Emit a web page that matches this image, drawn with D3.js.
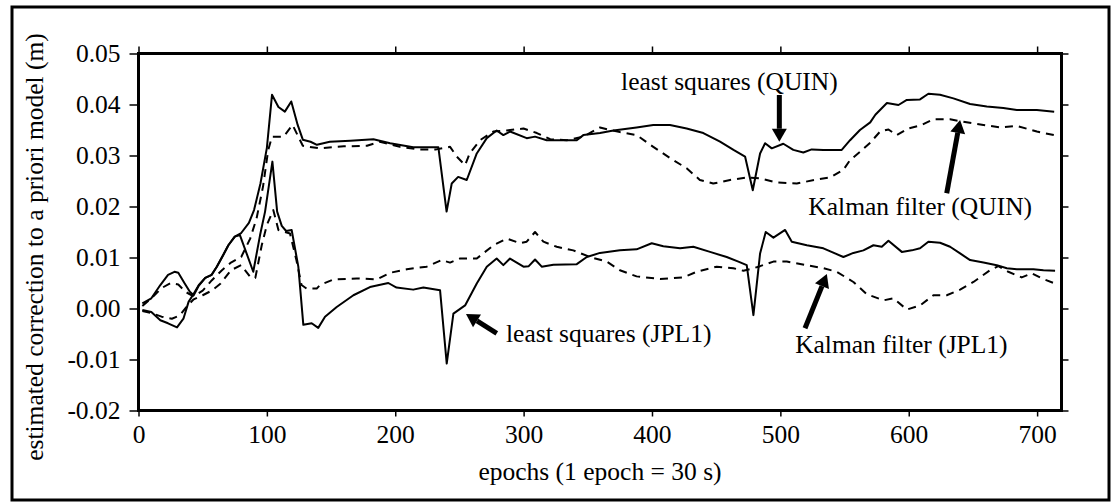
<!DOCTYPE html>
<html>
<head>
<meta charset="utf-8">
<script src="https://cdn.jsdelivr.net/npm/d3@7"></script>
<style>
  body { margin: 0; background: #fff; }
  svg { display: block; }
  text { font-family: "Liberation Serif", "Times New Roman", serif; fill: #000; }
</style>
</head>
<body>
<svg id="chart" width="1112" height="504"></svg>
<script>
// Axis ticks and labels
const xTicks = [0, 100, 200, 300, 400, 500, 600, 700];
const xTickLabels = ["0", "100", "200", "300", "400", "500", "600", "700"];
const yTicks = [0.05, 0.04, 0.03, 0.02, 0.01, 0.00, -0.01, -0.02];
const yTickLabels = ["0.05", "0.04", "0.03", "0.02", "0.01", "0.00", "-0.01", "-0.02"];

// Least squares estimate, station QUIN: [epoch, correction (m)]
const lsQuin = [
  [3, 0.0010], [10, 0.0020], [17, 0.0046], [23, 0.0066], [28, 0.0072], [31, 0.0070],
  [36, 0.0049], [40, 0.0033], [43, 0.0026], [47, 0.0045], [52, 0.0060], [57, 0.0066],
  [61, 0.0082], [66, 0.0105], [70, 0.0124], [75, 0.0141], [80, 0.0148], [86, 0.0168],
  [90, 0.0193], [95, 0.0245], [100, 0.0315], [104, 0.0419], [109, 0.0395], [114, 0.0386],
  [119, 0.0406], [124, 0.0360], [128, 0.0331], [134, 0.0327], [139, 0.0321], [149, 0.0327],
  [165, 0.0329], [183, 0.0332], [196, 0.0324], [214, 0.0316], [233.6, 0.0316], [240, 0.0190],
  [244, 0.0245], [249, 0.0258], [255.7, 0.0252], [263.5, 0.0304], [271.3, 0.0334], [279, 0.0349],
  [284.2, 0.0340], [289.4, 0.0347], [302.4, 0.0334], [308.9, 0.0337], [318, 0.0330], [341.4, 0.0330],
  [346.5, 0.0340], [359.5, 0.0344], [370, 0.0349], [388, 0.0355], [401, 0.0360], [414, 0.0360],
  [427, 0.0353], [440, 0.0344], [453, 0.0327], [463.5, 0.0311], [472.5, 0.0298], [478.5, 0.0232],
  [484.2, 0.0304], [488.1, 0.0324], [493.3, 0.0314], [502.3, 0.0323], [510.1, 0.0311], [517.9, 0.0306],
  [524.4, 0.0312], [533.5, 0.0311], [547.8, 0.0311], [554.3, 0.0330], [562, 0.0350], [570, 0.0365],
  [574, 0.0380], [583, 0.0403], [592, 0.0399], [598.5, 0.0409], [608.8, 0.0410], [615.3, 0.0421],
  [624.4, 0.0419], [634.8, 0.0412], [647.8, 0.0401], [660.8, 0.0396], [673.7, 0.0393], [684.2, 0.0389],
  [699.8, 0.0389], [713.3, 0.0386]
];

// Kalman filter estimate, station QUIN
const kfQuin = [
  [3, 0.0005], [10, 0.0020], [18, 0.0040], [25, 0.0050], [31, 0.0047], [37, 0.0032],
  [43, 0.0024], [50, 0.0035], [57, 0.0055], [65, 0.0075], [72, 0.0090], [80, 0.0101],
  [87, 0.0137], [92, 0.0177], [97, 0.0239], [101, 0.0310], [104, 0.0337], [113, 0.0337],
  [120, 0.0360], [128, 0.0319], [141, 0.0314], [160, 0.0318], [178, 0.0319], [188, 0.0327],
  [203.6, 0.0317], [219, 0.0312], [232, 0.0312], [242.7, 0.0317], [247.9, 0.0298], [254.4, 0.0281],
  [258, 0.0304], [266, 0.0330], [276.4, 0.0347], [286.9, 0.0349], [299.9, 0.0353], [310.3, 0.0344],
  [320.7, 0.0332], [333.6, 0.0330], [346.5, 0.0337], [359.5, 0.0355], [367.3, 0.0350], [375, 0.0346],
  [388, 0.0340], [401, 0.0317], [414, 0.0295], [427, 0.0275], [437.3, 0.0252], [447.7, 0.0245],
  [460.8, 0.0252], [473.8, 0.0257], [484.2, 0.0255], [497.2, 0.0247], [512.8, 0.0245], [528.4, 0.0253],
  [538.8, 0.0257], [549.1, 0.0272], [554.3, 0.0291], [562, 0.0307], [570, 0.0325], [577.7, 0.0347],
  [584.2, 0.0351], [590.7, 0.0340], [599.7, 0.0353], [610.3, 0.0360], [619.2, 0.0371], [632.2, 0.0371],
  [642.6, 0.0366], [658.2, 0.0360], [671.2, 0.0355], [684.2, 0.0358], [699.8, 0.0347], [713.3, 0.0340]
];

// Least squares estimate, station JPL1
const lsJpl1 = [
  [3, -0.0003], [10, -0.0007], [17, -0.0023], [23, -0.0029], [30, -0.0037], [35, -0.0020],
  [39, 0.0013], [43, 0.0029], [47, 0.0046], [52, 0.0060], [57, 0.0066], [61, 0.0082],
  [66, 0.0105], [70, 0.0124], [75, 0.0141], [79, 0.0144], [89.4, 0.0072], [94.7, 0.0144],
  [98.6, 0.0190], [104.3, 0.0288], [108, 0.0190], [111.6, 0.0162], [115, 0.0152], [119.3, 0.0154],
  [124.5, 0.0082], [128.4, -0.0032], [134.9, -0.0029], [140, -0.0038], [145.3, -0.0016], [154.4, 0.0003],
  [167.4, 0.0026], [180.3, 0.0042], [194.6, 0.0050], [201, 0.0041], [214, 0.0037], [221.9, 0.0041],
  [234.9, 0.0036], [240.1, -0.0108], [245.3, -0.0010], [254.4, 0.0006], [263.5, 0.0049], [271.3, 0.0082],
  [279, 0.0098], [284.2, 0.0085], [289.4, 0.0098], [299.9, 0.0082], [304, 0.0083], [308.9, 0.0096],
  [314.1, 0.0082], [323.2, 0.0086], [341.4, 0.0087], [349.2, 0.0101], [359.5, 0.0109], [375, 0.0114],
  [388, 0.0116], [399.8, 0.0128], [408.8, 0.0122], [421.9, 0.0118], [432.2, 0.0121], [445.2, 0.0111],
  [458.2, 0.0101], [467.3, 0.0092], [473.8, 0.0085], [479, -0.0013], [484.2, 0.0108], [488.6, 0.0150],
  [494.6, 0.0139], [503.7, 0.0154], [508.9, 0.0131], [520.6, 0.0124], [533.5, 0.0118], [549.1, 0.0101],
  [556.9, 0.0109], [564.7, 0.0114], [572.5, 0.0124], [579, 0.0121], [584.2, 0.0133], [594.6, 0.0111],
  [602.4, 0.0114], [608.8, 0.0118], [615.3, 0.0131], [624.4, 0.0129], [632.2, 0.0121], [640, 0.0108],
  [647.8, 0.0095], [658.2, 0.0090], [668.6, 0.0085], [676.4, 0.0079], [684.2, 0.0077], [697.1, 0.0077],
  [704.9, 0.0075], [714, 0.0074]
];

// Kalman filter estimate, station JPL1
const kfJpl1 = [
  [3, -0.0005], [10, -0.0009], [18, -0.0016], [26, -0.0020], [32, -0.0014], [38, 0.0005],
  [43, 0.0018], [50, 0.0026], [57, 0.0035], [64, 0.0049], [72, 0.0075], [80, 0.0085],
  [87, 0.0062], [91, 0.0060], [96, 0.0124], [100, 0.0164], [105, 0.0193], [109, 0.0154],
  [118, 0.0147], [123, 0.0095], [127, 0.0046], [131, 0.0039], [138.8, 0.0039], [141.4, 0.0046],
  [151.8, 0.0057], [170, 0.0059], [185.6, 0.0057], [196, 0.0070], [209, 0.0077], [224.5, 0.0082],
  [236.2, 0.0095], [242.7, 0.0090], [250.5, 0.0098], [263.5, 0.0098], [276.5, 0.0124], [286.9, 0.0137],
  [297.2, 0.0128], [302.4, 0.0131], [308.9, 0.0150], [315.4, 0.0131], [325.8, 0.0121], [338.7, 0.0114],
  [351.7, 0.0101], [364.7, 0.0092], [375, 0.0075], [388, 0.0063], [406.3, 0.0058], [424.4, 0.0061],
  [434.8, 0.0072], [450.4, 0.0082], [463.4, 0.0079], [471.2, 0.0074], [479, 0.0079], [484.2, 0.0083],
  [494.6, 0.0092], [505, 0.0092], [520.6, 0.0085], [533.5, 0.0079], [543.9, 0.0072], [556.9, 0.0052],
  [567.3, 0.0028], [580.3, 0.0016], [588.1, 0.0020], [598.5, -0.0002], [608.8, 0.0006], [619.2, 0.0026],
  [629.6, 0.0026], [640, 0.0037], [650.4, 0.0052], [663.3, 0.0075], [669.8, 0.0083], [677.6, 0.0072],
  [688, 0.0061], [695.9, 0.0069], [703.7, 0.0059], [714, 0.0049]
];

// Callout labels: text anchor point and arrow tail/tip, in data units
const calloutText = ["least squares (QUIN)", "Kalman filter (QUIN)", "least squares (JPL1)", "Kalman filter (JPL1)"];
const calloutAt = [[375.9, 0.04284], [521.8, 0.01833], [286.3, -0.00651], [511.5, -0.00878]];
const arrowFrom = [[499.2, 0.04186], [629.6, 0.02259], [279.1, -0.00486], [519.2, -0.00388]];
const arrowTo = [[499.2, 0.0327], [640, 0.03696], [255.1, -0.00108], [536.2, 0.00676]];

const svg = d3.select("#chart");
const W = 1112, H = 504;
const FONT = 25.5;

const x = d3.scaleLinear().domain([0, 719]).range([138.5, 1061.5]);
const y = d3.scaleLinear().domain([-0.02, 0.05]).range([410.5, 53.5]);

// outer frame
svg.append("rect")
  .attr("x", 12).attr("y", 7).attr("width", 1097).attr("height", 493)
  .attr("fill", "none").attr("stroke", "#000").attr("stroke-width", 3);

// axes
function styleAxis(g) {
  g.select(".domain").remove();
  g.selectAll(".tick line").attr("stroke", "#000").attr("stroke-width", 1.5);
  g.selectAll(".tick text").attr("font-size", FONT).attr("font-family", "Liberation Serif");
}

svg.append("g").attr("transform", `translate(0,${y(-0.02)})`)
  .call(d3.axisBottom(x).tickValues(xTicks).tickSize(6).tickPadding(8)
    .tickFormat((d, i) => xTickLabels[i]))
  .call(styleAxis);

svg.append("g").attr("transform", `translate(0,${y(0.05)})`)
  .call(d3.axisTop(x).tickValues(xTicks).tickSize(7).tickFormat(""))
  .call(styleAxis);

svg.append("g").attr("transform", `translate(${x(0)},0)`)
  .call(d3.axisLeft(y).tickValues(yTicks).tickSize(9).tickPadding(9)
    .tickFormat((d, i) => yTickLabels[i]))
  .call(styleAxis);

svg.append("g").attr("transform", `translate(${x(719)},0)`)
  .call(d3.axisRight(y).tickValues(yTicks).tickSize(7).tickFormat(""))
  .call(styleAxis);

// plot box
svg.append("rect")
  .attr("x", x(0)).attr("y", y(0.05))
  .attr("width", x(719) - x(0)).attr("height", y(-0.02) - y(0.05))
  .attr("fill", "none").attr("stroke", "#000").attr("stroke-width", 3);

// series
const line = d3.line().x(d => x(d[0])).y(d => y(d[1]));
const series = [
  { data: lsQuin, dash: null },
  { data: kfQuin, dash: "8,6" },
  { data: lsJpl1, dash: null },
  { data: kfJpl1, dash: "8,6" }
];
svg.append("g").selectAll("path").data(series).join("path")
  .attr("d", s => line(s.data))
  .attr("fill", "none")
  .attr("stroke", "#000")
  .attr("stroke-width", 2)
  .attr("stroke-linejoin", "round")
  .attr("stroke-dasharray", s => s.dash);

// callout arrows
const arrows = svg.append("g");
arrowFrom.forEach((a, i) => {
  const x0 = x(a[0]), y0 = y(a[1]);
  const x1 = x(arrowTo[i][0]), y1 = y(arrowTo[i][1]);
  const len = Math.hypot(x1 - x0, y1 - y0);
  const ux = (x1 - x0) / len, uy = (y1 - y0) / len;
  const headLen = 13, headHalf = 7.5;
  const bx = x1 - ux * headLen, by = y1 - uy * headLen;
  arrows.append("line")
    .attr("x1", x0).attr("y1", y0).attr("x2", bx).attr("y2", by)
    .attr("stroke", "#000").attr("stroke-width", 5);
  arrows.append("path")
    .attr("d", `M${x1},${y1}L${bx - uy * headHalf},${by + ux * headHalf}L${bx + uy * headHalf},${by - ux * headHalf}Z`)
    .attr("fill", "#000");
});

// callout labels
svg.append("g").selectAll("text").data(calloutText).join("text")
  .attr("x", (d, i) => x(calloutAt[i][0]))
  .attr("y", (d, i) => y(calloutAt[i][1]))
  .attr("font-size", FONT)
  .text(d => d);

// axis titles
svg.append("text")
  .attr("x", (x(0) + x(719)) / 2).attr("y", 480)
  .attr("text-anchor", "middle").attr("font-size", FONT)
  .text("epochs (1 epoch = 30 s)");

svg.append("text")
  .attr("transform", "translate(43,247) rotate(-90)")
  .attr("text-anchor", "middle").attr("font-size", FONT)
  .text("estimated correction to a priori model (m)");
</script>
</body>
</html>
